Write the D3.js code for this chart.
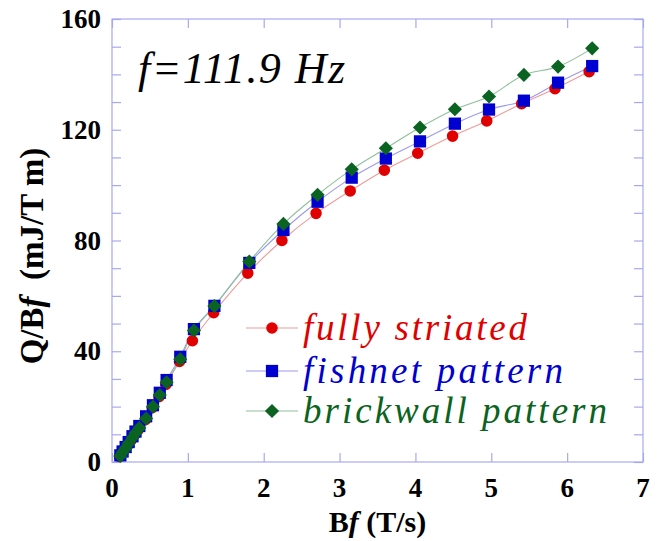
<!DOCTYPE html>
<html>
<head>
<meta charset="utf-8">
<script src="https://cdn.jsdelivr.net/npm/d3@7"></script>
<style>
  html, body { margin: 0; padding: 0; background: #fff; }
  svg { display: block; }
</style>
</head>
<body>
<svg id="chart" width="658" height="541"></svg>
<script>
// ---------------- data ----------------
const seriesNames = ["fully striated", "fishnet pattern", "brickwall pattern"];
const xTicks = [0, 1, 2, 3, 4, 5, 6, 7];
const yTickLabels = [0, 40, 80, 120, 160];
const yMinorTicks = [0, 10, 20, 30, 40, 50, 60, 70, 80, 90, 100, 110, 120, 130, 140, 150, 160];

const xStriated = [0.10, 0.13, 0.17, 0.21, 0.26, 0.30, 0.35, 0.44, 0.53, 0.62, 0.71, 0.89, 1.06, 1.34, 1.79, 2.24, 2.69, 3.14, 3.59, 4.03, 4.49, 4.94, 5.40, 5.84, 6.29];
const yStriated = [2.0, 3.2, 4.6, 6.3, 8.2, 9.9, 11.8, 15.3, 19.6, 23.6, 28.0, 36.3, 43.8, 53.9, 68.2, 80.0, 89.8, 97.9, 105.4, 111.5, 117.7, 123.2, 129.4, 134.8, 141.0];

const xFishnet = [0.11, 0.14, 0.18, 0.22, 0.27, 0.31, 0.36, 0.45, 0.54, 0.63, 0.72, 0.90, 1.08, 1.35, 1.81, 2.26, 2.71, 3.16, 3.61, 4.06, 4.52, 4.97, 5.43, 5.88, 6.33];
const yFishnet = [2.4, 3.8, 5.4, 7.2, 9.3, 11.0, 13.0, 16.5, 20.5, 25.0, 29.6, 38.0, 48.0, 56.4, 71.9, 83.8, 94.0, 102.7, 109.6, 115.8, 122.2, 127.3, 130.5, 137.0, 143.0];

const xBrickwall = [0.11, 0.14, 0.18, 0.22, 0.27, 0.31, 0.36, 0.45, 0.54, 0.63, 0.72, 0.90, 1.08, 1.35, 1.81, 2.26, 2.71, 3.16, 3.61, 4.06, 4.52, 4.97, 5.43, 5.88, 6.33];
const yBrickwall = [2.2, 3.5, 5.0, 6.8, 8.8, 10.5, 12.3, 15.7, 20.0, 24.2, 28.8, 37.1, 47.5, 56.3, 72.4, 86.0, 96.5, 105.7, 113.3, 120.8, 127.4, 132.0, 139.8, 142.8, 149.4];

// ---------------- styling ----------------
const markerColors = ["#e00000", "#0000d0", "#0a6320"];
const lineColors = ["#f09a9a", "#9a9af0", "#8fc09a"];
const frameColor = "#a8a8f0";

const series = [
  { name: seriesNames[0], xs: xStriated, ys: yStriated, shape: "circle" },
  { name: seriesNames[1], xs: xFishnet, ys: yFishnet, shape: "square" },
  { name: seriesNames[2], xs: xBrickwall, ys: yBrickwall, shape: "diamond" }
];

const svg = d3.select("#chart");
const pLeft = 112, pRight = 643, pTop = 19, pBottom = 462;

const x = d3.scaleLinear().domain([0, 7]).range([pLeft, pRight]);
const y = d3.scaleLinear().domain([0, 160]).range([pBottom, pTop]);

// frame
svg.append("rect")
  .attr("x", pLeft).attr("y", pTop)
  .attr("width", pRight - pLeft).attr("height", pBottom - pTop)
  .attr("fill", "none").attr("stroke", frameColor).attr("stroke-width", 1.2);

// axes (ticks inside)
const tickLen = 9;
const bottomAxis = d3.axisBottom(x).tickValues(xTicks).tickSize(-tickLen).tickFormat("");
const topAxis = d3.axisTop(x).tickValues(xTicks).tickSize(-tickLen).tickFormat("");
const leftAxis = d3.axisLeft(y).tickValues(yMinorTicks).tickSize(-tickLen).tickFormat("");
const rightAxis = d3.axisRight(y).tickValues(yMinorTicks).tickSize(-tickLen).tickFormat("");

function styleAxis(g) {
  g.select(".domain").remove();
  g.selectAll(".tick line").attr("stroke", frameColor).attr("stroke-width", 1.2);
}
svg.append("g").attr("transform", `translate(0,${pBottom})`).call(bottomAxis).call(styleAxis);
svg.append("g").attr("transform", `translate(0,${pTop})`).call(topAxis).call(styleAxis);
svg.append("g").attr("transform", `translate(${pLeft},0)`).call(leftAxis).call(styleAxis);
svg.append("g").attr("transform", `translate(${pRight},0)`).call(rightAxis).call(styleAxis);

// tick labels
const tickFont = "'Liberation Serif', 'Times New Roman', serif";
svg.append("g").selectAll("text").data(xTicks).join("text")
  .attr("x", d => x(d)).attr("y", 497)
  .attr("text-anchor", "middle")
  .attr("font-family", tickFont).attr("font-weight", "bold").attr("font-size", 27)
  .text(d => d);
svg.append("g").selectAll("text").data(yTickLabels).join("text")
  .attr("x", 101).attr("y", d => y(d) + 9)
  .attr("text-anchor", "end")
  .attr("font-family", tickFont).attr("font-weight", "bold").attr("font-size", 27)
  .text(d => d);

// axis titles
const xt = svg.append("text")
  .attr("x", (pLeft + pRight) / 2).attr("y", 532)
  .attr("text-anchor", "middle")
  .attr("font-family", tickFont).attr("font-weight", "bold").attr("font-size", 30);
xt.append("tspan").text("B");
xt.append("tspan").attr("font-style", "italic").text("f");
xt.append("tspan").text(" (T/s)");

const yt = svg.append("text")
  .attr("transform", "translate(43,256) rotate(-90)")
  .attr("text-anchor", "middle")
  .attr("font-family", tickFont).attr("font-weight", "bold").attr("font-size", 33);
yt.append("tspan").text("Q/B");
yt.append("tspan").attr("font-style", "italic").text("f");
yt.append("tspan").text("\u00a0 (mJ/T m)");

// title
const scriptFont = "'Liberation Serif', 'Times New Roman', serif";
svg.append("text")
  .attr("x", 138).attr("y", 83)
  .attr("font-family", scriptFont).attr("font-style", "italic")
  .attr("font-size", 44)
  .attr("textLength", 207).attr("lengthAdjust", "spacing")
  .text("f=111.9 Hz");

// lines
const line = d3.line().x(d => x(d[0])).y(d => y(d[1])).curve(d3.curveCatmullRom.alpha(0.5));
series.forEach((s, i) => {
  const pts = s.xs.map((v, k) => [v, s.ys[k]]);
  svg.append("path").datum(pts)
    .attr("d", line)
    .attr("fill", "none").attr("stroke", lineColors[i]).attr("stroke-width", 1.1);
});

// markers
const circleSym = d3.symbol().type(d3.symbolCircle).size(105);
const squareSym = d3.symbol().type(d3.symbolSquare).size(150);
const diamondSym = d3.symbol().type(d3.symbolSquare).size(100);
function drawMarker(g, shape, cx, cy, color) {
  if (shape === "diamond") {
    g.append("path").attr("d", diamondSym())
      .attr("transform", `translate(${cx},${cy}) rotate(45)`)
      .attr("fill", color);
  } else {
    g.append("path").attr("d", shape === "circle" ? circleSym() : squareSym())
      .attr("transform", `translate(${cx},${cy})`)
      .attr("fill", color);
  }
}
series.forEach((s, i) => {
  const g = svg.append("g");
  s.xs.forEach((v, k) => drawMarker(g, s.shape, x(v), y(s.ys[k]), markerColors[i]));
});

// legend
const legendRows = [328, 371, 411];
const legendWidths = [224, 260, 304];
series.forEach((s, i) => {
  const g = svg.append("g");
  const ry = legendRows[i];
  g.append("line").attr("x1", 246).attr("x2", 298).attr("y1", ry).attr("y2", ry)
    .attr("stroke", lineColors[i]).attr("stroke-width", 1.1);
  drawMarker(g, s.shape, 272, ry, markerColors[i]);
  g.append("text").attr("x", 303).attr("y", ry + 12)
    .attr("font-family", scriptFont).attr("font-style", "italic")
    .attr("font-size", 37).attr("fill", markerColors[i])
    .attr("textLength", legendWidths[i]).attr("lengthAdjust", "spacing")
    .text(s.name);
});
</script>
</body>
</html>
